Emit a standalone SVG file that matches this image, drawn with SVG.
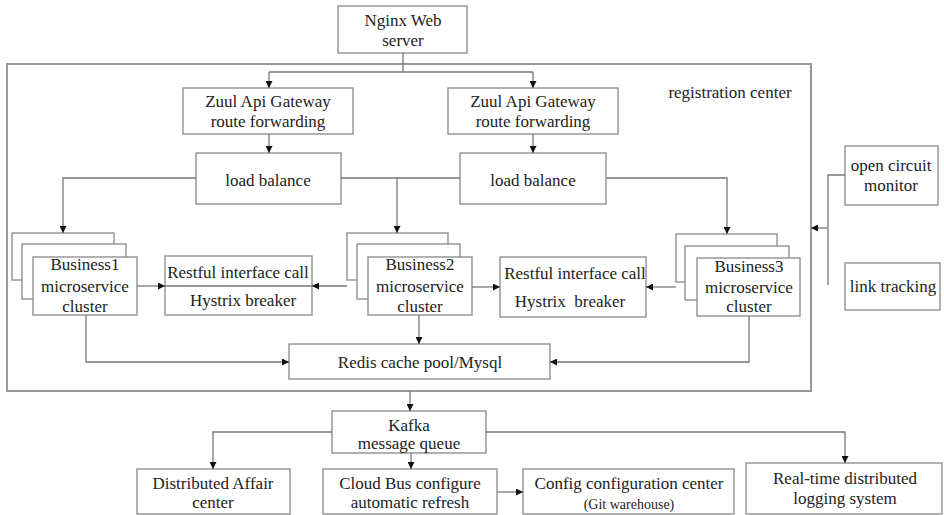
<svg xmlns="http://www.w3.org/2000/svg" width="944" height="515" viewBox="0 0 944 515">
<style>
.b{fill:#fff;stroke:#888;stroke-width:1.3}
.c{fill:none;stroke:#777;stroke-width:1.3}
.o{fill:none;stroke:#999;stroke-width:2}
text{font-family:"Liberation Serif","Times New Roman",serif;font-size:17px;fill:#222;text-anchor:middle}
.s{font-size:14px}
</style>
<defs>
<marker id="a" viewBox="0 0 10 10" refX="10" refY="5" markerWidth="7" markerHeight="7" markerUnits="userSpaceOnUse" orient="auto"><path d="M0,0L10,5L0,10z" fill="#111"/></marker>
</defs>
<rect x="0" y="0" width="944" height="515" fill="#fff"/>
<g id="registration-center">
<rect class="o" x="7" y="64" width="804" height="327"/>
<text x="730" y="98">registration center</text>
</g>
<g id="nginx"><rect class="b" x="338" y="6" width="129" height="47"/><text x="403" y="26">Nginx Web</text><text x="403" y="46">server</text></g>
<g id="zuul1"><rect class="b" x="183" y="88" width="170" height="46"/><text x="268" y="107">Zuul Api Gateway</text><text x="268" y="127">route forwarding</text></g>
<g id="zuul2"><rect class="b" x="448" y="88" width="170" height="46"/><text x="533" y="107">Zuul Api Gateway</text><text x="533" y="127">route forwarding</text></g>
<g id="lb1"><rect class="b" x="196" y="153" width="145" height="51"/><text x="268" y="186">load balance</text></g>
<g id="lb2"><rect class="b" x="460" y="153" width="146" height="51"/><text x="533" y="186">load balance</text></g>
<g id="business1"><rect class="b" x="12" y="233" width="102" height="47"/><rect class="b" x="22" y="244" width="104" height="55"/><rect class="b" x="33" y="257" width="104" height="58"/><text x="85" y="270">Business1</text><text x="85" y="292">microservice</text><text x="85" y="312">cluster</text></g>
<g id="restful1"><rect class="b" x="165" y="256" width="147" height="59"/><line class="c" x1="165" y1="286" x2="312" y2="286"/><text x="238" y="278">Restful interface call</text><text x="243" y="306">Hystrix breaker</text></g>
<g id="business2"><rect class="b" x="347" y="233" width="101" height="47"/><rect class="b" x="357" y="244" width="103" height="55"/><rect class="b" x="368" y="257" width="104" height="58"/><text x="420" y="270">Business2</text><text x="420" y="292">microservice</text><text x="420" y="312">cluster</text></g>
<g id="restful2"><rect class="b" x="500" y="257" width="146" height="60"/><text x="575" y="279">Restful interface call</text><text x="570" y="307" xml:space="preserve">Hystrix  breaker</text></g>
<g id="business3"><rect class="b" x="676" y="234" width="101" height="48"/><rect class="b" x="685" y="246" width="104" height="54"/><rect class="b" x="697" y="258" width="103" height="58"/><text x="749" y="272">Business3</text><text x="749" y="293">microservice</text><text x="749" y="312">cluster</text></g>
<g id="redis"><rect class="b" x="289" y="344" width="261" height="35"/><text x="420" y="368">Redis cache pool/Mysql</text></g>
<g id="kafka"><rect class="b" x="332" y="411" width="154" height="42"/><text x="409" y="431">Kafka</text><text x="409" y="449">message queue</text></g>
<g id="distributed"><rect class="b" x="137" y="469" width="153" height="45"/><text x="213" y="489">Distributed Affair</text><text x="213" y="508">center</text></g>
<g id="cloudbus"><rect class="b" x="323" y="469" width="174" height="45"/><text x="410" y="489">Cloud Bus configure</text><text x="410" y="508">automatic refresh</text></g>
<g id="config"><rect class="b" x="523" y="469" width="211" height="45"/><text x="629" y="489">Config configuration center</text><text class="s" x="629" y="509">(Git warehouse)</text></g>
<g id="logging"><rect class="b" x="746" y="463" width="196" height="51"/><text x="845" y="484">Real-time distributed</text><text x="845" y="504">logging system</text></g>
<g id="circuit"><rect class="b" x="845" y="146" width="93" height="59"/><text x="891" y="171">open circuit</text><text x="891" y="191">monitor</text></g>
<g id="tracking"><rect class="b" x="845" y="263" width="95" height="47"/><text x="893" y="292">link tracking</text></g>
<g id="connectors">
<polyline class="c" points="403,53 403,72"/>
<polyline class="c" points="269,72 533,72"/>
<line class="c" x1="269" y1="72" x2="269" y2="88" marker-end="url(#a)"/>
<line class="c" x1="533" y1="72" x2="533" y2="88" marker-end="url(#a)"/>
<line class="c" x1="269" y1="134" x2="269" y2="153" marker-end="url(#a)"/>
<line class="c" x1="533" y1="134" x2="533" y2="153" marker-end="url(#a)"/>
<polyline class="c" points="196,178 63,178 63,233" marker-end="url(#a)"/>
<line class="c" x1="341" y1="178" x2="460" y2="178"/>
<line class="c" x1="397" y1="178" x2="397" y2="233" marker-end="url(#a)"/>
<polyline class="c" points="606,178 727,178 727,234" marker-end="url(#a)"/>
<line class="c" x1="137" y1="286" x2="165" y2="286" marker-end="url(#a)"/>
<line class="c" x1="347" y1="286" x2="312" y2="286" marker-end="url(#a)"/>
<line class="c" x1="472" y1="287" x2="500" y2="287" marker-end="url(#a)"/>
<line class="c" x1="676" y1="287" x2="646" y2="287" marker-end="url(#a)"/>
<polyline class="c" points="86,315 86,362 289,362" marker-end="url(#a)"/>
<line class="c" x1="419" y1="315" x2="419" y2="344" marker-end="url(#a)"/>
<polyline class="c" points="749,316 749,362 550,362" marker-end="url(#a)"/>
<line class="c" x1="410" y1="391" x2="410" y2="411" marker-end="url(#a)"/>
<polyline class="c" points="332,432 213,432 213,469" marker-end="url(#a)"/>
<line class="c" x1="411" y1="453" x2="411" y2="469" marker-end="url(#a)"/>
<polyline class="c" points="486,432 845,432 845,463" marker-end="url(#a)"/>
<line class="c" x1="497" y1="492" x2="523" y2="492" marker-end="url(#a)"/>
<polyline class="c" points="845,175 828,175 828,285"/>
<line class="c" x1="828" y1="228" x2="811" y2="228" marker-end="url(#a)"/>
</g>
</svg>
